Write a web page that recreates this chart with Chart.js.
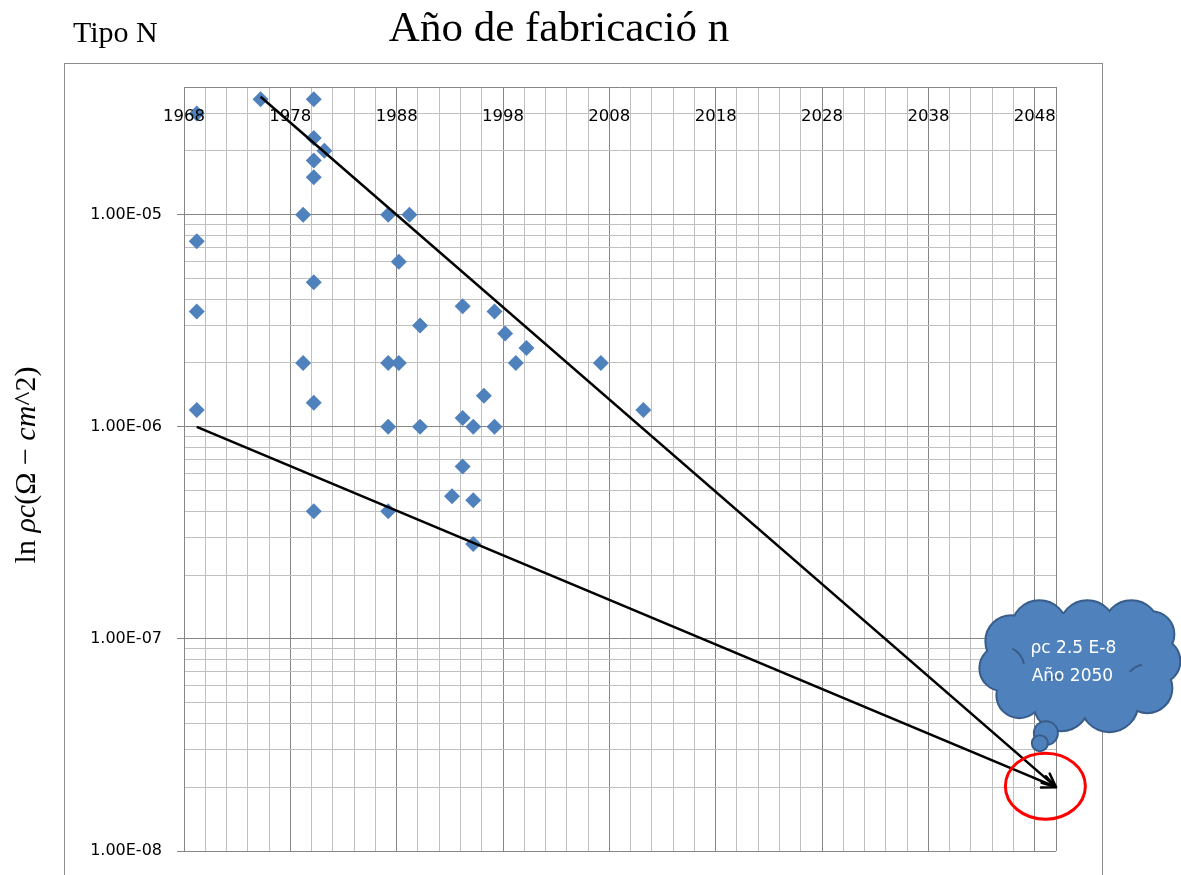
<!DOCTYPE html>
<html>
<head>
<meta charset="utf-8">
<script src="https://cdn.jsdelivr.net/npm/chart.js@4.4.1/dist/chart.umd.min.js"></script>
<style>
  html, body { margin: 0; padding: 0; background: #fff; }
  canvas { display: block; }
</style>
</head>
<body>
<canvas id="chart" width="1181" height="875"></canvas>
<script>
// Measured contact resistivity (ohm-cm^2) by year of manufacture, type N
const years = [
  1969, 1975, 1980, 1980, 1981, 1980, 1980, 1979, 1987, 1989,
  1969, 1988, 1980, 1969, 1994, 1997, 1990, 1998, 2000,
  1979, 1987, 1988, 1999, 2007,
  1996, 1980, 1969, 2011, 1994,
  1987, 1990, 1995, 1997,
  1994, 1993, 1995, 1980, 1987, 1995
];
const rho = [
  3.0e-5, 3.5e-5, 3.5e-5, 2.3e-5, 2.0e-5, 1.8e-5, 1.5e-5, 1.0e-5, 1.0e-5, 1.0e-5,
  7.5e-6, 6.0e-6, 4.8e-6, 3.5e-6, 3.7e-6, 3.5e-6, 3.0e-6, 2.75e-6, 2.35e-6,
  2.0e-6, 2.0e-6, 2.0e-6, 2.0e-6, 2.0e-6,
  1.4e-6, 1.3e-6, 1.2e-6, 1.2e-6, 1.1e-6,
  1.0e-6, 1.0e-6, 1.0e-6, 1.0e-6,
  6.5e-7, 4.7e-7, 4.5e-7, 4.0e-7, 4.0e-7, 2.8e-7
];

// Upper and lower trend arrows, both ending at the 2050 projection
const upperTrendYears = [1975, 2049.8];
const upperTrendRho = [3.6e-5, 2.0e-8];
const lowerTrendYears = [1969, 2049.8];
const lowerTrendRho = [1.0e-6, 2.0e-8];

// Projection marker
const targetYear = 2048.8;
const targetRho = 2.0e-8;
const calloutLines = ['\u03c1c 2.5 E-8', 'A\u00f1o 2050'];

// Axes (x starts at 1967.8; labels show the rounded year)
const xMin = 1967.8, xMax = 2049.8, xMinorStep = 2, xMajorEvery = 5;
const xLabelYears = ['1968', '1978', '1988', '1998', '2008', '2018', '2028', '2038', '2048'];
const yMin = 1e-8, yMax = 4e-5;
const yDecades = [1e-8, 1e-7, 1e-6, 1e-5];
const yDecadeLabels = ['1.00E-08', '1.00E-07', '1.00E-06', '1.00E-05'];
const xAxisCrossing = 3e-5;

const titleText = 'A\u00f1o de fabricaci\u00f3 n';
const cornerText = 'Tipo N';
const yTitleParts = [
  { t: 'ln ', italic: false },
  { t: '\u03c1c', italic: true },
  { t: '(\u03a9 \u2212 ', italic: false },
  { t: 'cm', italic: true },
  { t: '^2)', italic: false }
];

const MAJOR_GRID = '#868686';
const MINOR_GRID = '#c0c0c0';
const POINT_BLUE = '#4f81bd';

// tick positions for the axes
const xTicks = [];
for (let k = 0; xMin + k * xMinorStep <= xMax + 1e-9; k++) xTicks.push(+(xMin + k * xMinorStep).toFixed(4));
const yTicks = [];
yDecades.forEach(d => {
  const e = Math.round(Math.log10(d));
  for (let m = 1; m <= 9; m++) {
    const v = Number(m + 'e' + e);
    if (v <= yMax * (1 + 1e-9)) yTicks.push(v);
  }
});
const isDecade = v => yDecades.some(d => Math.abs(d - v) / d < 1e-9);

const scatterPoints = years.map((x, i) => ({ x, y: rho[i] }));
const upperLine = upperTrendYears.map((x, i) => ({ x, y: upperTrendRho[i] }));
const lowerLine = lowerTrendYears.map((x, i) => ({ x, y: lowerTrendRho[i] }));

const zeroPad = s => { s.paddingLeft = 0; s.paddingRight = 0; s.paddingTop = 0; s.paddingBottom = 0; };

const decorPlugin = {
  id: 'decor',
  beforeDraw(chart) {
    const ctx = chart.ctx;
    ctx.save();
    ctx.fillStyle = '#fff';
    ctx.fillRect(0, 0, chart.width, chart.height);
    // outer frame of the chart
    ctx.strokeStyle = '#8c8c8c';
    ctx.lineWidth = 1;
    ctx.strokeRect(64.5, 63.5, 1038, 900);
    // titles
    ctx.fillStyle = '#000';
    ctx.textBaseline = 'alphabetic';
    ctx.font = '43px "Liberation Serif"';
    ctx.textAlign = 'center';
    ctx.fillText(titleText, 559, 41);
    ctx.font = '30px "Liberation Serif"';
    ctx.textAlign = 'left';
    ctx.fillText(cornerText, 73, 42);
    // rotated y-axis title
    const size = 30;
    const fontOf = p => (p.italic ? 'italic ' : '') + size + 'px "Liberation Serif"';
    let total = 0;
    yTitleParts.forEach(p => { ctx.font = fontOf(p); total += ctx.measureText(p.t).width; });
    ctx.translate(35, 465);
    ctx.rotate(-Math.PI / 2);
    let x = -total / 2;
    yTitleParts.forEach(p => {
      ctx.font = fontOf(p);
      ctx.fillText(p.t, x, 0);
      x += ctx.measureText(p.t).width;
    });
    ctx.restore();
  },
  afterDatasetsDraw(chart) {
    const ctx = chart.ctx;
    ctx.save();
    ctx.strokeStyle = '#000';
    ctx.lineWidth = 2.5;
    ctx.lineCap = 'round';
    ctx.lineJoin = 'round';
    [0, 1].forEach(di => {
      const pts = chart.getDatasetMeta(di).data;
      const a = pts[pts.length - 2], b = pts[pts.length - 1];
      const ang = Math.atan2(b.y - a.y, b.x - a.x);
      const len = 15, spread = 0.42;
      ctx.beginPath();
      ctx.moveTo(b.x - len * Math.cos(ang - spread), b.y - len * Math.sin(ang - spread));
      ctx.lineTo(b.x, b.y);
      ctx.lineTo(b.x - len * Math.cos(ang + spread), b.y - len * Math.sin(ang + spread));
      ctx.stroke();
    });
    ctx.restore();
  },
  afterDraw(chart) {
    const ctx = chart.ctx;
    const ax = chart.scales.x.getPixelForValue(targetYear);
    const ay = chart.scales.y.getPixelForValue(targetRho);
    ctx.save();
    // red ring around the projected value
    ctx.strokeStyle = '#ff0000';
    ctx.lineWidth = 3;
    ctx.beginPath();
    ctx.ellipse(ax, ay - 1, 40, 33, 0, 0, Math.PI * 2);
    ctx.stroke();

    // thought-cloud callout, offsets from the ring centre
    const cx = ax + 32, cy = ay - 124;
    const bumps = [
      [-38, -35, 27], [10, -35, 27], [54, -35, 27], [74, -29, 22],
      [80, -2, 22], [70, 25, 24], [32, 40, 28], [-16, 40, 27],
      [-58, 32, 22], [-75, 5, 22], [-66, -22, 25]
    ];
    const bubbles = [[-31.5, 70, 12], [-37.5, 80, 8]];
    const fill = '#4f81bd', edge = '#385d8a';
    ctx.lineWidth = 4;
    ctx.strokeStyle = edge;
    bumps.forEach(([dx, dy, r]) => { ctx.beginPath(); ctx.arc(cx + dx, cy + dy, r, 0, Math.PI * 2); ctx.stroke(); });
    ctx.fillStyle = fill;
    ctx.beginPath();
    bumps.forEach(([dx, dy, r]) => { ctx.moveTo(cx + dx + r, cy + dy); ctx.arc(cx + dx, cy + dy, r, 0, Math.PI * 2); });
    ctx.moveTo(cx + 82, cy);
    ctx.ellipse(cx, cy, 82, 50, 0, 0, Math.PI * 2);
    ctx.fill('nonzero');
    // inner fold lines
    ctx.lineWidth = 2;
    ctx.beginPath(); ctx.arc(cx - 75, cy + 5, 22, -1.1, -0.2); ctx.stroke();
    ctx.beginPath(); ctx.arc(cx - 16, cy + 40, 27, -2.1, -1.5); ctx.stroke();
    ctx.beginPath(); ctx.arc(cx + 70, cy + 25, 24, -2.4, -1.8); ctx.stroke();
    // small bubbles
    bubbles.forEach(([dx, dy, r]) => {
      ctx.beginPath(); ctx.arc(cx + dx, cy + dy, r, 0, Math.PI * 2);
      ctx.fillStyle = fill; ctx.fill();
      ctx.lineWidth = 2; ctx.strokeStyle = edge; ctx.stroke();
    });
    // callout text
    ctx.fillStyle = '#fff';
    ctx.font = '17px "DejaVu Sans"';
    ctx.textAlign = 'center';
    ctx.textBaseline = 'middle';
    ctx.fillText(calloutLines[0], cx - 4, cy - 15);
    ctx.fillText(calloutLines[1], cx - 5, cy + 13);
    ctx.restore();
  }
};

new Chart(document.getElementById('chart'), {
  type: 'scatter',
  data: {
    datasets: [
      {
        data: upperLine, showLine: true, borderColor: '#000', borderWidth: 2.5,
        pointRadius: 0, fill: false, order: 0
      },
      {
        data: lowerLine, showLine: true, borderColor: '#000', borderWidth: 2.5,
        pointRadius: 0, fill: false, order: 0
      },
      {
        data: scatterPoints, pointStyle: 'rectRot', pointRadius: 8,
        backgroundColor: POINT_BLUE, borderColor: POINT_BLUE, borderWidth: 0, order: 1
      }
    ]
  },
  options: {
    responsive: false,
    animation: false,
    devicePixelRatio: 1,
    layout: { padding: { left: 64, right: 125, top: 87, bottom: 24 } },
    plugins: { legend: { display: false }, tooltip: { enabled: false }, title: { display: false } },
    scales: {
      x: {
        type: 'linear',
        position: { y: xAxisCrossing },
        min: xMin, max: xMax,
        afterBuildTicks: s => { s.ticks = xTicks.map(v => ({ value: v })); },
        afterFit: zeroPad,
        ticks: {
          autoSkip: false, maxRotation: 0, minRotation: 0, padding: -7, z: 1,
          color: '#000', font: { family: 'DejaVu Sans', size: 16.5 },
          callback: (v, i) => (i % xMajorEvery === 0 ? xLabelYears[i / xMajorEvery] : '')
        },
        grid: {
          drawTicks: false,
          lineWidth: 1,
          color: c => (c.index % xMajorEvery === 0 || c.index === xTicks.length - 1 ? MAJOR_GRID : MINOR_GRID)
        },
        border: { display: true, color: MINOR_GRID, width: 1 }
      },
      y: {
        type: 'logarithmic',
        position: 'left',
        min: yMin, max: yMax,
        afterBuildTicks: s => { s.ticks = yTicks.map(v => ({ value: v })); },
        afterFit: s => { zeroPad(s); s.width = 120; },
        ticks: {
          autoSkip: false, padding: 15,
          color: '#000', font: { family: 'DejaVu Sans', size: 16 },
          callback: v => {
            const i = yDecades.findIndex(d => Math.abs(d - v) / d < 1e-9);
            return i >= 0 ? yDecadeLabels[i] : '';
          }
        },
        grid: {
          drawTicks: true, tickLength: 7, lineWidth: 1,
          color: c => (isDecade(c.tick.value) || Math.abs(c.tick.value - yMax) / yMax < 1e-9 ? MAJOR_GRID : MINOR_GRID),
          tickColor: c => (isDecade(c.tick.value) ? MAJOR_GRID : 'rgba(0,0,0,0)')
        },
        border: { display: true, color: MAJOR_GRID, width: 1 }
      }
    }
  },
  plugins: [decorPlugin]
});
</script>
</body>
</html>
